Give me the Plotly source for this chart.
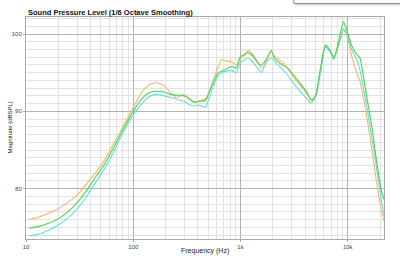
import plotly.graph_objects as go

freq_hz = [10.7, 13, 16, 20, 25, 30, 36, 43, 53, 65, 80, 100, 120, 140, 163, 195, 222, 250,
           297, 330, 367, 420, 470, 505, 560, 623, 670, 743, 826, 918, 986, 1100, 1180, 1310,
           1460, 1560, 1735, 1930, 2070, 2390, 2750, 3170, 3650, 4200, 4500, 4750, 5100, 5400,
           5600, 6200, 6900, 7400, 8200, 9100, 9800, 10900, 12100, 13000, 14000, 15000, 16700,
           18500, 20600, 21800]

spl_orange = [76.0, 76.3, 76.8, 77.4, 78.3, 79.2, 80.5, 81.8, 83.5, 85.7, 88.0, 90.5, 92.5, 93.4,
              93.7, 93.3, 92.4, 91.8, 92.2, 91.6, 91.2, 91.4, 91.6, 92.4, 94.1, 95.8, 96.7, 96.5,
              96.4, 96.0, 96.7, 97.3, 97.9, 97.3, 96.3, 95.6, 96.5, 97.7, 97.1, 96.5, 95.6, 94.3,
              93.3, 92.2, 91.6, 91.4, 92.5, 94.1, 95.4, 98.4, 97.7, 96.7, 98.4, 100.5, 99.9, 97.1,
              95.0, 93.9, 91.8, 89.5, 85.2, 81.0, 77.1, 75.8]

spl_green = [74.9, 75.1, 75.5, 76.1, 77.1, 78.2, 79.6, 81.2, 83.0, 85.2, 87.6, 90.0, 91.6, 92.4,
             92.6, 92.5, 92.2, 92.1, 92.0, 91.7, 91.2, 91.3, 91.4, 92.3, 93.8, 95.0, 95.2, 95.5,
             95.8, 95.6, 97.0, 97.4, 97.6, 97.1, 96.2, 96.0, 96.7, 97.9, 96.9, 96.1, 95.6, 94.6,
             93.5, 92.4, 91.5, 91.6, 92.3, 94.5, 95.8, 98.6, 97.8, 96.9, 99.0, 101.6, 100.5, 98.5,
             97.4, 96.9, 94.5, 92.0, 88.2, 83.7, 79.7, 78.6]

spl_cyan = [73.9, 74.1, 74.6, 75.3, 76.3, 77.4, 78.8, 80.5, 82.4, 84.6, 87.2, 89.5, 91.0, 91.9,
            92.2, 92.0, 91.8, 91.6, 91.3, 90.9, 90.7, 90.8, 90.5, 91.5, 93.3, 94.6, 95.0, 95.2,
            95.3, 95.0, 96.2, 96.7, 96.9, 96.3, 95.5, 95.0, 96.3, 96.9, 96.5, 95.6, 94.7, 93.5,
            92.5, 91.6, 91.1, 91.3, 92.3, 94.0, 95.2, 98.3, 97.6, 96.8, 98.6, 100.7, 100.0, 98.0,
            96.7, 95.3, 93.0, 90.8, 86.8, 82.8, 78.5, 76.5]

x_tick_vals = [10, 100, 1000, 10000]
x_tick_text = ["10", "100", "1k", "10k"]
y_tick_vals = [80, 90, 100]

series = [
    ("Orange", spl_orange, "#f9b46c"),
    ("Cyan", spl_cyan, "#5fe0e0"),
    ("Green", spl_green, "#4ed24e"),
]

FONT = "Liberation Sans, Arial, sans-serif"

fig = go.Figure()
for name, vals, color in series:
    fig.add_trace(go.Scatter(x=freq_hz, y=vals, mode="lines", name=name,
                             line=dict(color=color, width=1.1, shape="spline", smoothing=0.6),
                             showlegend=False))

fig.update_layout(
    width=400, height=262,
    margin=dict(l=22, r=16, t=17, b=20),
    paper_bgcolor="white", plot_bgcolor="white",
    font=dict(family=FONT, size=6, color="#444"),
    xaxis=dict(type="log", range=[1, 4.338], tickvals=x_tick_vals, ticktext=x_tick_text,
               showgrid=True, gridcolor="#b4b4b4", gridwidth=1,
               minor=dict(showgrid=True, gridcolor="#e2e2e2", dtick="D1", ticks=""),
               showline=True, linecolor="#aaaaaa", mirror=True,
               ticks="outside", ticklen=2, tickcolor="#aaaaaa",
               tickfont=dict(size=6, color="#444"), zeroline=False),
    yaxis=dict(range=[73.5, 102.2], tickvals=y_tick_vals,
               showgrid=True, gridcolor="#b4b4b4", gridwidth=1,
               minor=dict(showgrid=True, gridcolor="#e2e2e2", dtick=1, tick0=0, ticks=""),
               showline=True, linecolor="#aaaaaa", mirror=True,
               ticks="outside", ticklen=2, tickcolor="#aaaaaa",
               tickfont=dict(size=6, color="#444"), zeroline=False),
    annotations=[
        dict(text="<b>Sound Pressure Level (1/6 Octave Smoothing)</b>", xref="paper", yref="paper",
             x=0, y=1.022, xanchor="left", yanchor="middle", showarrow=False,
             font=dict(family=FONT, size=7.5, color="#111")),
        dict(text="Frequency (Hz)", xref="paper", yref="paper", x=0.5, y=-0.056,
             xanchor="center", yanchor="middle", showarrow=False,
             font=dict(family=FONT, size=7, color="#222")),
        dict(text="Magnitude (dBSPL)", xref="paper", yref="paper", x=-0.046, y=0.5,
             xanchor="center", yanchor="middle", showarrow=False, textangle=-90,
             font=dict(family=FONT, size=6, color="#222")),
    ],
    shapes=[
        dict(type="rect", xref="paper", yref="paper", x0=0.752, x1=1.1, y0=1.052, y1=1.061,
             fillcolor="#d6d6d6", line=dict(width=0), layer="above"),
        dict(type="rect", xref="paper", yref="paper", x0=0.748, x1=1.1, y0=1.061, y1=1.2,
             fillcolor="white", line=dict(color="#8a8a8a", width=1), layer="above"),
    ],
)

fig.write_html("out.html")
